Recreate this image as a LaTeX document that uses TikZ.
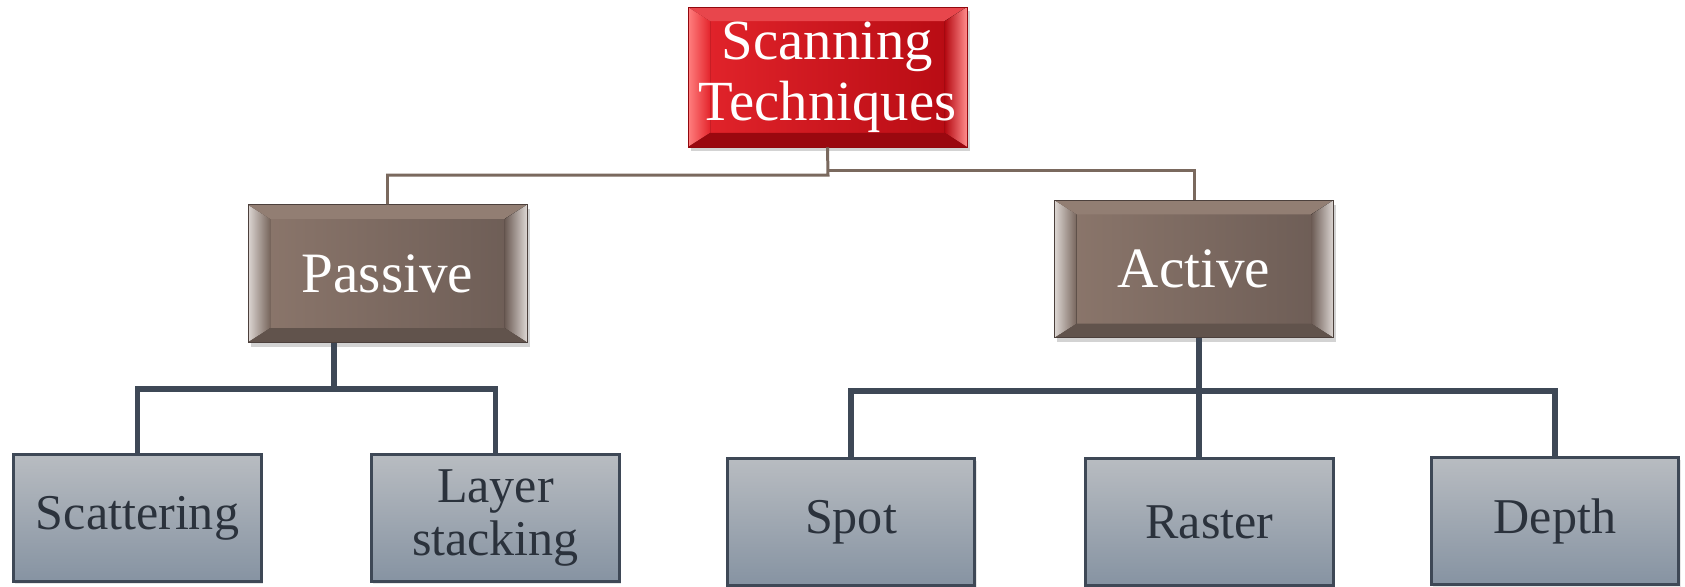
\documentclass[tikz,border=0pt]{standalone}
\usepackage{fontspec}
\setmainfont{Liberation Serif}
\usetikzlibrary{shadows}

\definecolor{redlight}{HTML}{E4252C}
\definecolor{reddark}{HTML}{B50A12}
\definecolor{brownlight}{HTML}{8C776C}
\definecolor{browndark}{HTML}{6C5C55}
\definecolor{leaftop}{HTML}{B8BCC1}
\definecolor{leafbottom}{HTML}{8693A2}
\definecolor{slate}{HTML}{3E4856}
\definecolor{stem}{HTML}{7A695E}

\tikzset{
  % four sloped edges round the face: left, top, right, bottom
  bevel/.style n args={4}{path picture={
      \path (path picture bounding box.south west) coordinate (bsw)
            (path picture bounding box.north west) coordinate (bnw)
            (path picture bounding box.north east) coordinate (bne)
            (path picture bounding box.south east) coordinate (bse);
      \fill[#1] (bsw) -- (bnw) -- ([shift={(.44cm,-.28cm)}]bnw) -- ([shift={(.44cm,.28cm)}]bsw) -- cycle;
      \fill[#2] (bnw) -- (bne) -- ([shift={(-.44cm,-.28cm)}]bne) -- ([shift={(.44cm,-.28cm)}]bnw) -- cycle;
      \fill[#3] (bne) -- (bse) -- ([shift={(-.44cm,.28cm)}]bse) -- ([shift={(-.44cm,-.28cm)}]bne) -- cycle;
      \fill[#4] (bse) -- (bsw) -- ([shift={(.44cm,.28cm)}]bsw) -- ([shift={(-.44cm,.28cm)}]bse) -- cycle;
  }},
  topbox/.style={draw=reddark!80!black, line width=.5pt, left color=redlight, right color=reddark,
    minimum width=5.58cm, minimum height=2.8cm, inner sep=0pt, align=center, text=white,
    font=\fontsize{32.3}{35}\selectfont,
    drop shadow={opacity=.35, shadow xshift=1.5pt, shadow yshift=-2.5pt},
    bevel={{left color=red!50!white, right color=redlight}}{{fill=redlight!85!white}}%
          {{left color=reddark, right color=red!45!white}}{{fill=reddark!85!black}}},
  midbox/.style={draw=browndark!70!black, line width=.5pt, left color=brownlight, right color=browndark,
    minimum width=5.58cm, minimum height=2.75cm, inner sep=0pt, align=center, text=white,
    font=\fontsize{32.5}{34}\selectfont,
    drop shadow={opacity=.35, shadow xshift=1.5pt, shadow yshift=-2.5pt},
    bevel={{left color=brownlight!30!white, right color=brownlight!85!black}}{{fill=brownlight!95!white}}%
          {{left color=browndark, right color=brownlight!30!white}}{{fill=browndark!90!black}}},
  leafbox/.style={draw=slate, line width=1.7pt, top color=leaftop, bottom color=leafbottom,
    minimum width=4.96cm, minimum height=2.54cm, inner sep=0pt, align=center, text=slate!70!black,
    font=\fontsize{28.5}{30.5}\selectfont,
    drop shadow={opacity=.2, shadow xshift=1pt, shadow yshift=-1.5pt}},
  upline/.style={draw=stem, line width=1.7pt},
  downline/.style={draw=slate, line width=3.4pt}
}

\begin{document}
\begin{tikzpicture}[x=0.02cm, y=-0.02cm]

  \useasboundingbox (0,0) rectangle (1685,586);

  \path (827.5,77)   node (top)     [topbox]  {\raisebox{-4pt}{Scanning}\\\raisebox{-4pt}{Techniques}}
        (387.5,273.5) node (passive) [midbox]  {Passive}
        (1194,269)   node (active)  [midbox]  {Active}
        (137.5,518)  node (scat)    [leafbox] {\raisebox{-3pt}{Scattering}}
        (495.5,518)  node (lay)     [leafbox] {\raisebox{-3pt}{Layer}\\\raisebox{-3pt}{stacking}}
        (851,522)    node (spot)    [leafbox] {Spot}
        (1209.5,522) node (raster)  [leafbox] {Raster}
        (1555,521)   node (depth)   [leafbox] {Depth};

  % junction points of the branches
  \coordinate (tl) at (828,175);
  \coordinate (tr) at (828,170);
  \coordinate (pj) at (334,389);
  \coordinate (aj) at (1199,391);

  \draw[upline] (top.south) -- (tl) -| (passive.north);
  \draw[upline] (tr) -| (active.north);

  \draw[downline] (pj |- passive.south) -- (pj);
  \draw[downline] (scat.north) |- (pj) -| (lay.north);

  \draw[downline] (aj |- active.south) -- (aj);
  \draw[downline] (spot.north) |- (aj) -| (depth.north);
  \draw[downline] (aj) -- (aj |- raster.north);

\end{tikzpicture}
\end{document}
